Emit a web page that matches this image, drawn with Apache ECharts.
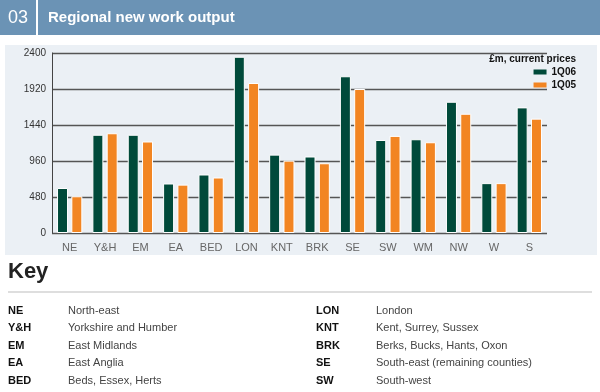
<!DOCTYPE html>
<html><head><meta charset="utf-8">
<script src="https://cdn.jsdelivr.net/npm/echarts@6/dist/echarts.min.js"></script>
<style>html,body{margin:0;padding:0;background:#fff}#c{width:600px;height:392px}</style>
</head><body><div id="c"></div>
<script>
const categories = ['NE','Y&H','EM','EA','BED','LON','KNT','BRK','SE','SW','WM','NW','W','S'];
const q106 = [600,1310,1310,660,780,2350,1045,1020,2090,1240,1250,1750,665,1675];
const q105 = [490,1330,1220,645,740,2000,965,930,1920,1295,1210,1590,665,1525];
const yTicks = [0,480,960,1440,1920,2400];
const keyLeft = [['NE','North-east'],['Y&H','Yorkshire and Humber'],['EM','East Midlands'],['EA','East Anglia'],['BED','Beds, Essex, Herts']];
const keyRight = [['LON','London'],['KNT','Kent, Surrey, Sussex'],['BRK','Berks, Bucks, Hants, Oxon'],['SE','South-east (remaining counties)'],['SW','South-west']];

const FONT = '"Liberation Sans", Arial, sans-serif';
const chart = echarts.init(document.getElementById('c'), null, {renderer:'canvas'});

const graphics = [
  {type:'rect', shape:{x:0,y:0,width:600,height:35}, style:{fill:'#6b93b5'}, silent:true, z:-10},
  {type:'rect', shape:{x:36,y:0,width:2,height:35}, style:{fill:'#ffffff'}, silent:true, z:-9},
  {type:'text', x:8, y:18, style:{text:'03', fill:'#fff', font:'500 18px '+FONT, textVerticalAlign:'middle'}},
  {type:'text', x:48, y:18, style:{text:'Regional new work output', fill:'#fff', font:'600 15px '+FONT, textVerticalAlign:'middle'}},
  {type:'rect', shape:{x:5,y:45,width:592,height:210}, style:{fill:'#ebf0f5'}, silent:true, z:-10},
  {type:'text', x:576, y:59, style:{text:'£m, current prices', fill:'#111', font:'bold 10px '+FONT, textAlign:'right', textVerticalAlign:'middle'}},
  {type:'text', x:8, y:272, style:{text:'Key', fill:'#222', font:'600 22px '+FONT, textVerticalAlign:'middle'}},
  {type:'line', shape:{x1:8,y1:292,x2:592,y2:292}, style:{stroke:'#bdbdbd', lineWidth:1}}
];
function addKey(list, xAbbr, xDesc){
  list.forEach((r,i)=>{
    const y = 311 + i*17.4;
    graphics.push({type:'text', x:xAbbr, y:y, style:{text:r[0], fill:'#111', font:'bold 11px '+FONT, textVerticalAlign:'middle'}});
    graphics.push({type:'text', x:xDesc, y:y, style:{text:r[1], fill:'#444', font:'11px '+FONT, textVerticalAlign:'middle'}});
  });
}
addKey(keyLeft, 8, 68);
addKey(keyRight, 316, 376);

chart.setOption({
  animation:false,
  backgroundColor:'#ffffff',
  textStyle:{fontFamily:FONT},
  grid:{left:52, right:53, top:53, bottom:159, containLabel:false},
  legend:{
    orient:'vertical', right:24, top:67, padding:0, align:'left', itemGap:3,
    itemWidth:13, itemHeight:5, icon:'rect',
    itemStyle:{borderWidth:0},
    textStyle:{fontSize:10, fontWeight:'bold', color:'#111', fontFamily:FONT},
    data:['1Q06','1Q05']
  },
  xAxis:{
    type:'category', data:categories,
    axisLine:{show:false}, axisTick:{show:false},
    axisLabel:{color:'#666', fontSize:11, margin:9}
  },
  yAxis:{
    type:'value', min:yTicks[0], max:yTicks[yTicks.length-1], interval:480,
    axisLine:{show:true, lineStyle:{color:'#444', width:1}},
    axisTick:{show:false},
    axisLabel:{color:'#333', fontSize:10, margin:6, formatter:(v)=>String(v)},
    splitLine:{show:true, lineStyle:{color:'#555', width:1.3}}
  },
  series:[
    {name:'1Q06', type:'bar', data:q106, barWidth:11, barGap:'30%',
     itemStyle:{color:'#004a3a', borderColor:'#ffffff', borderWidth:1}},
    {name:'1Q05', type:'bar', data:q105, barWidth:11,
     itemStyle:{color:'#f28522', borderColor:'#ffffff', borderWidth:1}}
  ],
  graphic:graphics
});
</script></body></html>
